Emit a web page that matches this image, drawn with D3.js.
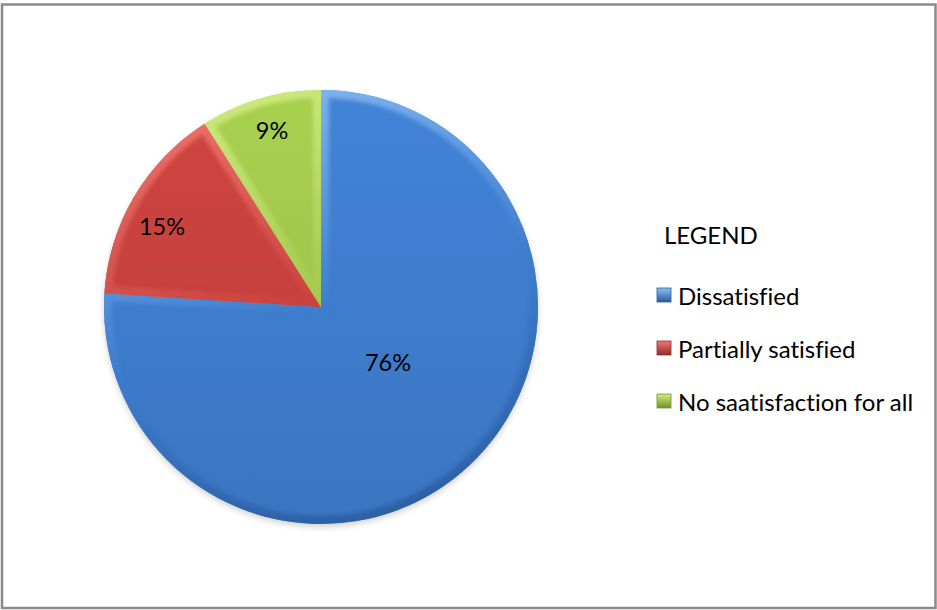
<!DOCTYPE html>
<html><head><meta charset="utf-8">
<script src="https://cdn.jsdelivr.net/npm/d3@7"></script>
<style>html,body{margin:0;padding:0;background:#fff;}svg{display:block;}text{font-variant-ligatures:none;font-feature-settings:"liga" 0;}</style>
</head><body>
<script>
const categories = ["Dissatisfied", "Partially satisfied", "No saatisfaction for all"];
const values = [76, 15, 9];
const labels = ["76%", "15%", "9%"];
const colors = ["#3f7ecf", "#c8413d", "#a2c84c"];
const lights = ["#8ec0f6", "#f07a72", "#d2ee84"];
const darks = ["#2a5c9e", "#942a28", "#74922c"];
const legendTitle = "LEGEND";

const W = 937, H = 610;
const svg = d3.select("body").append("svg").attr("width", W).attr("height", H);
const defs = svg.append("defs");
const font = "Lato, 'Open Sans', sans-serif";

svg.append("rect").attr("x", 2).attr("y", 4.5).attr("width", 933.5).attr("height", 603.5)
  .attr("fill", "#fff").attr("stroke", "#8a8a8a").attr("stroke-width", 2.5);

const cx = 321, cy = 307, R = 217;
const pie = d3.pie().sort(null).value(d => d)(values);
const arc = d3.arc().innerRadius(0).outerRadius(R);

const blur = defs.append("filter").attr("id", "blur").attr("x", "-10%").attr("y", "-10%").attr("width", "120%").attr("height", "120%");
blur.append("feGaussianBlur").attr("stdDeviation", 2.2);
const shadow = defs.append("filter").attr("id", "shadow").attr("x", "-10%").attr("y", "-10%").attr("width", "120%").attr("height", "120%");
shadow.append("feGaussianBlur").attr("stdDeviation", 3);

const g = svg.append("g").attr("transform", `translate(${cx},${cy})`);
g.append("circle").attr("cx", 0).attr("cy", 3).attr("r", R).attr("fill", "#000").attr("opacity", 0.18).attr("filter", "url(#shadow)");

pie.forEach((p, i) => {
  const grad = defs.append("linearGradient").attr("id", "g" + i)
    .attr("gradientUnits", "userSpaceOnUse").attr("x1", 0).attr("y1", -R).attr("x2", 0).attr("y2", R);
  grad.append("stop").attr("offset", 0).attr("stop-color", d3.color(colors[i]).brighter(0.12));
  grad.append("stop").attr("offset", 1).attr("stop-color", d3.color(colors[i]).darker(0.2));
  const eg = defs.append("linearGradient").attr("id", "e" + i)
    .attr("gradientUnits", "userSpaceOnUse").attr("x1", -R * 0.3).attr("y1", -R).attr("x2", R * 0.3).attr("y2", R);
  eg.append("stop").attr("offset", 0).attr("stop-color", lights[i]);
  eg.append("stop").attr("offset", 0.5).attr("stop-color", colors[i]);
  eg.append("stop").attr("offset", 1).attr("stop-color", darks[i]);
  defs.append("clipPath").attr("id", "c" + i).append("path").attr("d", arc(p));

  g.append("path").attr("d", arc(p)).attr("fill", `url(#g${i})`);
  g.append("g").attr("clip-path", `url(#c${i})`)
    .append("path").attr("d", arc(p)).attr("fill", "none")
    .attr("stroke", `url(#e${i})`).attr("stroke-width", 16).attr("stroke-linejoin", "round")
    .attr("opacity", 0.85).attr("filter", "url(#blur)");
});

const labelPos = [[388, 362], [162, 226], [272, 130]];
labels.forEach((t, i) => {
  svg.append("text").attr("x", labelPos[i][0]).attr("y", labelPos[i][1]).attr("text-anchor", "middle")
    .attr("dominant-baseline", "central").attr("font-family", font).attr("font-size", 23.5).attr("fill", "#000").text(t);
});

svg.append("text").attr("x", 664).attr("y", 244).attr("font-family", font).attr("font-size", 24).attr("fill", "#000").text(legendTitle);
const ly = d3.scalePoint().domain(categories).range([295, 401]);
categories.forEach((c, i) => {
  const y = ly(c);
  const mg = defs.append("linearGradient").attr("id", "m" + i).attr("x1", 0).attr("y1", 0).attr("x2", 0).attr("y2", 1);
  mg.append("stop").attr("offset", 0).attr("stop-color", lights[i]);
  mg.append("stop").attr("offset", 1).attr("stop-color", darks[i]);
  svg.append("rect").attr("x", 657).attr("y", y - 7).attr("width", 14).attr("height", 14)
    .attr("fill", `url(#m${i})`).attr("stroke", darks[i]).attr("stroke-width", 0.8);
  svg.append("text").attr("x", 678).attr("y", y).attr("dominant-baseline", "central")
    .attr("font-family", font).attr("font-size", 24).attr("fill", "#000").text(c);
});
</script>
</body></html>
